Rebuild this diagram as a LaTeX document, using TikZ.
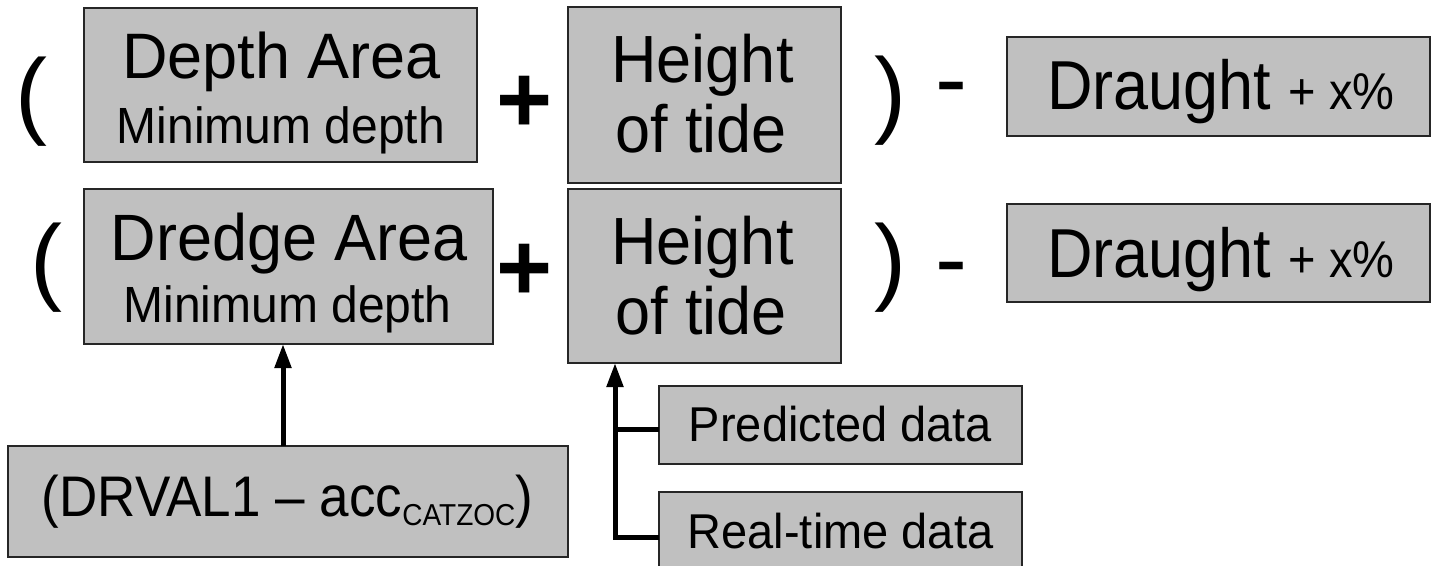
\documentclass[tikz,border=0pt]{standalone}
\usepackage{fontspec}
\setmainfont{Liberation Sans}
\usetikzlibrary{arrows.meta}
\definecolor{boxgray}{HTML}{C0C0C0}
\newcommand\fs[1]{\fontsize{#1}{#1}\selectfont}
\newcommand\vst[2]{\scalebox{1}[#1]{#2}}
\tikzset{
  box/.style={draw=black!85, line width=1.6pt, fill=boxgray, inner sep=0pt, outer sep=0pt},
  txt/.style={anchor=base, inner sep=0pt, outer sep=0pt},
  conn/.style={line width=5pt, draw=black},
  tiparrow/.style={-{Triangle[length=24pt,width=16pt]}},
  paren/.style={anchor=base, inner sep=0pt, font=\fs{96}},
  opsym/.style={anchor=base, inner sep=0pt, font=\fs{96}\bfseries},
  minus/.style={anchor=base, inner sep=0pt, font=\fs{96}},
}
\begin{document}
\begin{tikzpicture}[x=1pt,y=-1pt]
\useasboundingbox[fill=white] (0,0) rectangle (1435,565);

% boxes
\node[box, minimum width=393pt, minimum height=154pt] (depth) at (280.5,85) {};
\node[box, minimum width=273pt, minimum height=176pt] (tide1) at (704.5,95) {};
\node[box, minimum width=423pt, minimum height=99pt] (draught1) at (1218.5,86.5) {};
\node[box, minimum width=409pt, minimum height=155pt] (dredge) at (288.5,266.5) {};
\node[box, minimum width=273pt, minimum height=174pt] (tide2) at (704.5,276) {};
\node[box, minimum width=423pt, minimum height=98pt] (draught2) at (1218.5,253) {};
\node[box, minimum width=363pt, minimum height=78pt] (pred) at (840.5,425) {};
\node[box, minimum width=363pt, minimum height=90pt] (rt) at (840.5,537) {};
\node[box, minimum width=560pt, minimum height=111pt] (drval) at (288,501.5) {};

% texts
\node[txt, font=\fs{63}] (depthA) at (281.5,78) {\vst{1.02}{Depth Area}};
\node[txt, font=\fs{48}] (depthB) at (281,143) {\vst{1.06}{Minimum depth}};
\node[txt, font=\fs{63}] (tideA1) at (702.5,82) {\vst{1.06}{Height}};
\node[txt, font=\fs{63}] (tideB1) at (701,152) {\vst{1.06}{of tide}};
\node[txt] (draughtT1) at (1221,109) {\vst{1.1}{\fs{63}Draught \fs{47}+ x\%}};
\node[txt, font=\fs{63}] (dredgeA) at (289.5,260) {\vst{1.04}{Dredge Area}};
\node[txt, font=\fs{48}] (dredgeB) at (287.5,322) {\vst{1.06}{Minimum depth}};
\node[txt, font=\fs{63}] (tideA2) at (702.5,264) {\vst{1.06}{Height}};
\node[txt, font=\fs{63}] (tideB2) at (701,334) {\vst{1.06}{of tide}};
\node[txt] (draughtT2) at (1221,277) {\vst{1.1}{\fs{63}Draught \fs{47}+ x\%}};
\node[txt, font=\fs{47}] (predT) at (840.5,441) {\vst{1.04}{Predicted data}};
\node[txt, font=\fs{47}] (rtT) at (840.5,548) {\vst{1.04}{Real-time data}};
\node[txt] (drvalT) at (287.5,516) {\vst{1.08}{\fs{53}(DRVAL1 – acc\raisebox{-9pt}{\fs{28}CATZOC})}};

% operators
\node[paren] (lp1) at (31,126) {(};
\node[paren] (rp1) at (890,125) {)};
\node[paren] (lp2) at (46,292) {(};
\node[paren] (rp2) at (890,292) {)};
\node[opsym] (plus1) at (525,132) {+};
\node[opsym] (plus2) at (525,300) {+};
\node[minus] (min1) at (951,111) {-};
\node[minus] (min2) at (951,291) {-};

% connectors
\draw[conn, tiparrow] ([xshift=-5pt]drval.north) -- ([xshift=-5pt]drval.north |- dredge.south);
\coordinate (jn) at (615,537);
\draw[conn, tiparrow] (rt.west) -- (jn) -- (jn |- tide2.south);
\draw[conn] ([yshift=-4pt]pred.west) -- ([yshift=-4pt]pred.west -| jn);
\end{tikzpicture}
\end{document}
